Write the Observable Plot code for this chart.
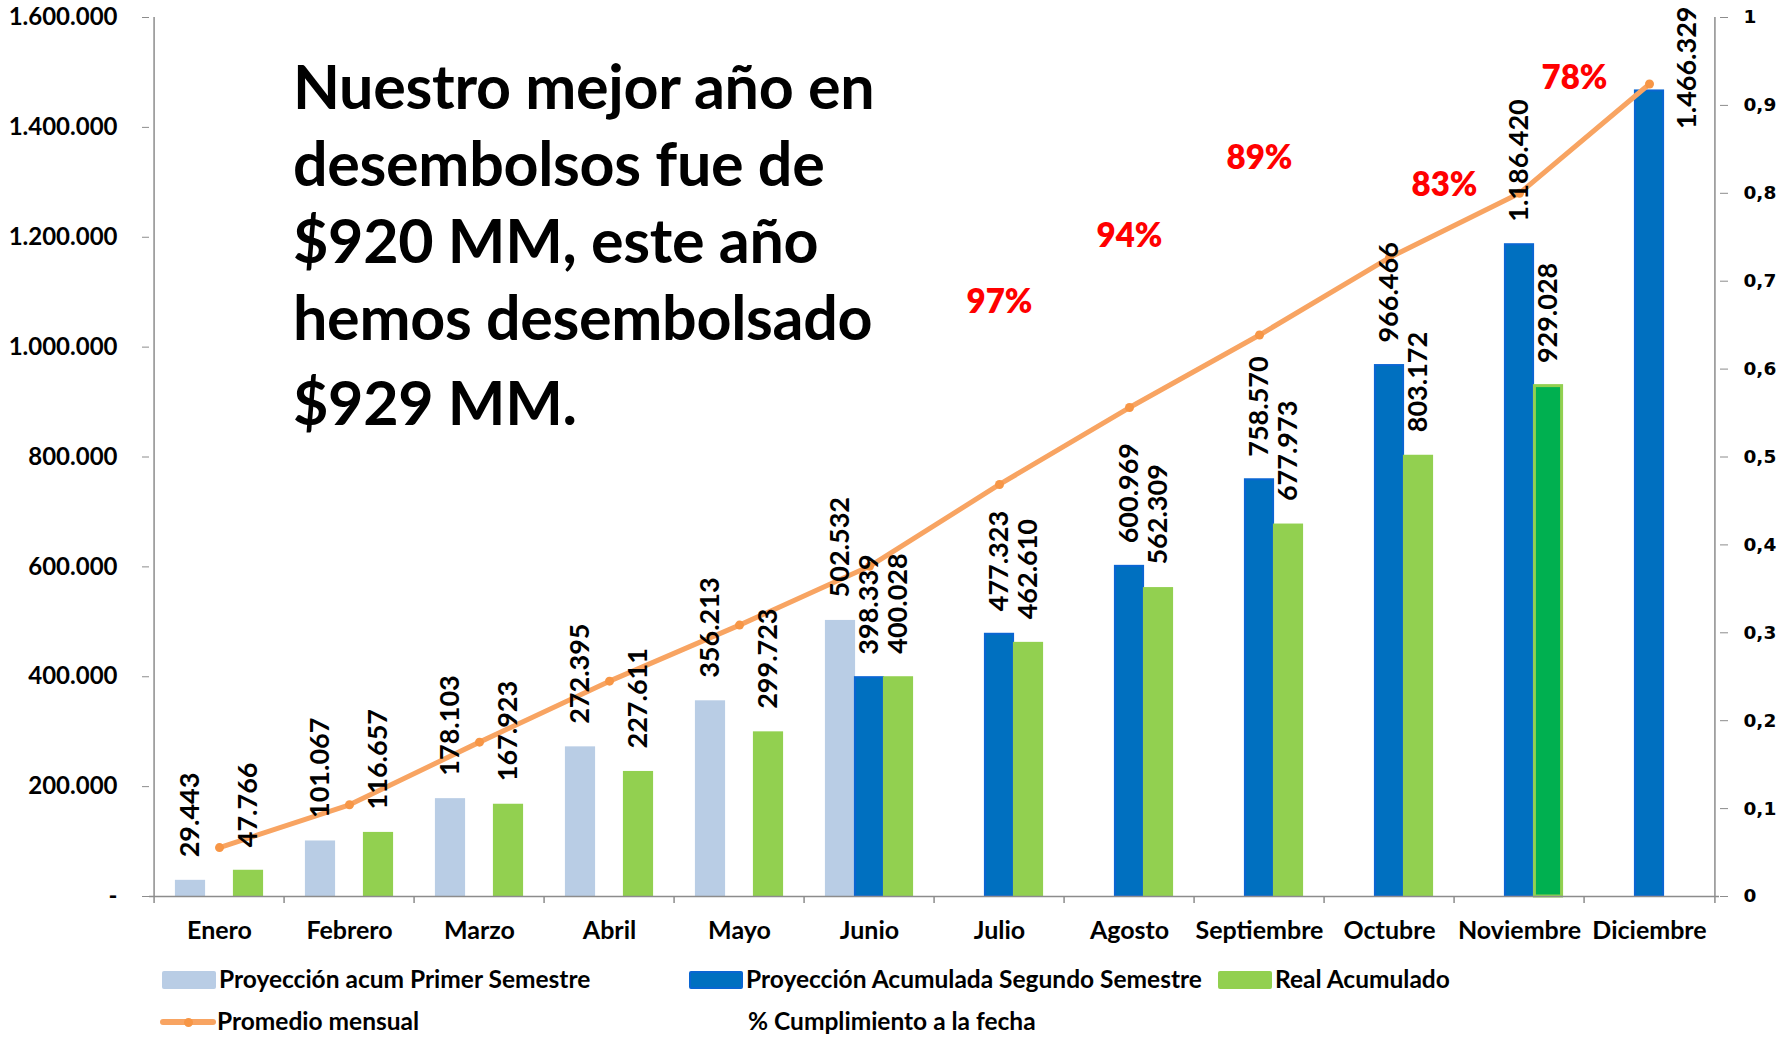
<!DOCTYPE html>
<html>
<head>
<meta charset="utf-8">
<script src="https://cdn.jsdelivr.net/npm/d3@7"></script>
<script src="https://cdn.jsdelivr.net/npm/@observablehq/plot@0.6"></script>
<style>
  body { margin: 0; background: #fff; }
  #wrap { position: relative; width: 1779px; height: 1038px; overflow: hidden; background: #fff; font-family: Lato, "Open Sans", sans-serif; font-weight: 700; color: #000; }
  #chart { position: absolute; left: 0; top: 0; }
  #headline { position: absolute; left: 293px; top: 47px; font-size: 61px; line-height: 77px; letter-spacing: -0.3px; white-space: nowrap; }
  #headline .last { display: block; margin-top: 8px; }
  .leg { position: absolute; font-size: 24.5px; line-height: 28px; white-space: nowrap; }
  .sw { position: absolute; }
  [aria-label="y-axis tick"] path, [aria-label="x-axis tick"] path { stroke: #8c8c8c; }
</style>
</head>
<body>
<div id="wrap">
  <div id="chart"></div>
  <div id="headline">Nuestro mejor año en<br>desembolsos fue de<br>$920 MM, este año<br>hemos desembolsado<span class="last">$929 MM.</span></div>
  <div id="legend"></div>
</div>
<script>
// ---------- data ----------
const months = ["Enero","Febrero","Marzo","Abril","Mayo","Junio","Julio","Agosto","Septiembre","Octubre","Noviembre","Diciembre"];
const proyPrimerSemestre = [29443, 101067, 178103, 272395, 356213, 502532, null, null, null, null, null, null];
const proySegundoSemestre = [null, null, null, null, null, 398339, 477323, 600969, 758570, 966466, 1186420, 1466329];
const realAcumulado = [47766, 116657, 167923, 227611, 299723, 400028, 462610, 562309, 677973, 803172, 929028, null];
const promedioMensual = [89000, 167000, 281000, 392000, 494000, 601000, 750000, 890000, 1022000, 1163000, 1280000, 1479000];
const pctMonths = ["Julio", "Agosto", "Septiembre", "Octubre", "Noviembre"];
const pctText = ["97%", "94%", "89%", "83%", "78%"];
const pctLabelY = [1081000, 1201000, 1343000, 1294000, 1489000];
const leftTicks = [0, 200000, 400000, 600000, 800000, 1000000, 1200000, 1400000, 1600000];
const rightTicks = [0, 0.1, 0.2, 0.3, 0.4, 0.5, 0.6, 0.7, 0.8, 0.9, 1];
const yMax = 1600000;

// ---------- tables ----------
const table = arr => months.map((m, i) => ({month: m, v: arr[i]})).filter(d => d.v != null);
const light = table(proyPrimerSemestre);
const dark = table(proySegundoSemestre);
const real = table(realAcumulado);
const prom = table(promedioMensual);
const pct = pctMonths.map((m, i) => ({month: m, text: pctText[i], y: pctLabelY[i]}));

// ---------- layout ----------
const W = 1779, H = 950, ML = 149, MR = 60, MT = 17, MB = 54;
const bw = (W - ML - MR) / months.length;
const barW = 31;
const inset = (bw - barW) / 2;
const off = 29;
const tickDown = 7 * yMax / (H - MT - MB);

const loc = d3.formatLocale({decimal: ",", thousands: ".", grouping: [3], currency: ["$", ""]});
const fmt = loc.format(",d");
const gray = "#8c8c8c";
const lab = {rotate: -90, textAnchor: "start", lineAnchor: "middle", fontSize: 27, fontWeight: 700, fill: "#000", dy: -23};

const plot = Plot.plot({
  width: W, height: H,
  marginLeft: ML, marginRight: MR, marginTop: MT, marginBottom: MB,
  style: {fontFamily: "Lato, sans-serif", color: "#000", background: "transparent", overflow: "visible"},
  x: {type: "band", domain: months, padding: 0},
  y: {domain: [0, yMax]},
  marks: [
    // bars
    Plot.barY(light, {x: "month", y: "v", fill: "#B9CDE5", insetLeft: inset, insetRight: inset, dx: -off}),
    Plot.barY(dark, {x: "month", y: "v", fill: "#0070C0", stroke: "#0A66D2", strokeWidth: 2, insetLeft: inset + 1, insetRight: inset + 1}),
    Plot.barY(real.filter(d => d.month !== "Noviembre"), {x: "month", y: "v", fill: "#92D050", insetLeft: inset, insetRight: inset, dx: off}),
    Plot.barY(real.filter(d => d.month === "Noviembre"), {x: "month", y: "v", fill: "#00B050", stroke: "#92D050", strokeWidth: 3, insetLeft: inset + 1.5, insetRight: inset + 1.5, dx: off}),
    // axes lines
    Plot.ruleY([0], {stroke: gray, strokeWidth: 1.5}),
    Plot.ruleX(months, {x: d => d, dx: -bw / 2, y1: 0, y2: -tickDown, stroke: gray, strokeWidth: 1.5}),
    Plot.ruleX([months[0]], {x: d => d, dx: -bw / 2, y1: 0, y2: yMax, stroke: gray, strokeWidth: 1.5}),
    Plot.ruleX([months[11]], {x: d => d, dx: bw / 2, y1: -tickDown, y2: yMax, stroke: gray, strokeWidth: 1.5}),
    // promedio line
    Plot.line(prom, {x: "month", y: "v", stroke: "#F8A462", strokeWidth: 5}),
    Plot.dot(prom, {x: "month", y: "v", r: 4.5, fill: "#F79646"}),
    // value labels
    Plot.text(light, {x: "month", y: "v", text: d => fmt(d.v), dx: -off, ...lab}),
    Plot.text(dark.filter(d => d.month !== "Diciembre"), {x: "month", y: "v", text: d => fmt(d.v), ...lab}),
    Plot.text(dark.filter(d => d.month === "Diciembre"), {x: "month", y: "v", text: d => fmt(d.v), ...lab, dx: 38, dy: 38}),
    Plot.text(real, {x: "month", y: "v", text: d => fmt(d.v), dx: off, ...lab}),
    // % cumplimiento labels
    Plot.text(pct.slice(0, 3), {x: "month", y: "y", text: "text", fill: "#FF0000", fontSize: 33, fontWeight: 800}),
    Plot.text(pct.slice(3), {x: "month", y: "y", text: "text", fill: "#FF0000", fontSize: 33, fontWeight: 800, dx: 55}),
    // axes
    Plot.axisY(leftTicks, {anchor: "left", tickSize: 7, tickPadding: 25, tickFormat: d => d === 0 ? "-" : fmt(d), fontSize: 24, fontWeight: 700, stroke: gray, label: null}),
    Plot.axisY(rightTicks.map(t => t * yMax), {anchor: "right", tickSize: 8, tickPadding: 16, tickFormat: d => String(Math.round(d / yMax * 10) / 10).replace(".", ","), fontSize: 18.5, fontFamily: "DejaVu Sans", fontWeight: 700, stroke: gray, label: null}),
    Plot.axisX({tickSize: 0, tickPadding: 25, fontSize: 25, fontWeight: 700, label: null})
  ]
});
document.getElementById("chart").appendChild(plot);

// ---------- legend ----------
const legendItems = [
  {label: "Proyección acum Primer Semestre", kind: "rect", color: "#B9CDE5", x: 162, y: 980},
  {label: "Proyección Acumulada Segundo Semestre", kind: "rect", color: "#0070C0", border: "#0A66D2", x: 689, y: 980},
  {label: "Real Acumulado", kind: "rect", color: "#92D050", x: 1218, y: 980},
  {label: "Promedio mensual", kind: "line", color: "#F8A462", dot: "#F79646", x: 160, y: 1022},
  {label: "% Cumplimiento a la fecha", kind: "none", x: 689, y: 1022}
];
const legend = document.getElementById("legend");
for (const it of legendItems) {
  if (it.kind === "rect") {
    const s = document.createElement("div");
    s.className = "sw";
    Object.assign(s.style, {left: it.x + "px", top: (it.y - 9) + "px", width: "54px", height: "18px", background: it.color, borderRadius: "2px", boxSizing: "border-box", border: it.border ? "2px solid " + it.border : "none"});
    legend.appendChild(s);
  } else if (it.kind === "line") {
    const s = document.createElement("div");
    s.className = "sw";
    Object.assign(s.style, {left: it.x + "px", top: (it.y - 3) + "px", width: "56px", height: "6px", background: it.color, borderRadius: "3px"});
    legend.appendChild(s);
    const d = document.createElement("div");
    d.className = "sw";
    Object.assign(d.style, {left: (it.x + 24) + "px", top: (it.y - 4.5) + "px", width: "9px", height: "9px", background: it.dot, borderRadius: "50%"});
    legend.appendChild(d);
  }
  const t = document.createElement("div");
  t.className = "leg";
  t.textContent = it.label;
  Object.assign(t.style, {left: (it.kind === "none" ? it.x + 59 : it.x + 57) + "px", top: (it.y - 15) + "px"});
  legend.appendChild(t);
}
</script>
</body>
</html>
